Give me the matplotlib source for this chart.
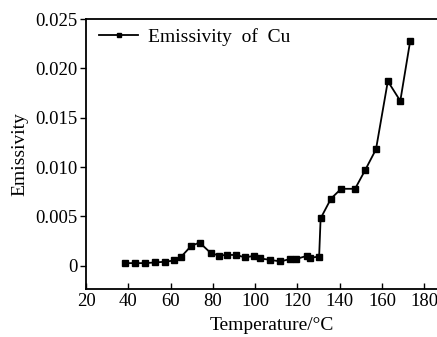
import matplotlib
matplotlib.use("Agg")
import matplotlib.pyplot as plt
from matplotlib.ticker import FuncFormatter

temperature = [38.5, 43.3, 48.0, 52.6, 57.4, 61.8, 65.0, 69.7, 73.7, 79.0,
               82.8, 86.8, 91.1, 95.2, 99.3, 102.5, 106.9, 112.0, 116.4, 119.3,
               124.4, 125.9, 130.3, 131.0, 135.9, 140.7, 147.3, 152.1, 157.2,
               162.8, 168.7, 173.4]
emissivity = [0.00027, 0.00027, 0.00027, 0.00034, 0.00041, 0.00054, 0.00091,
              0.0020, 0.00236, 0.0013, 0.00104, 0.0011, 0.0011, 0.00085,
              0.0010, 0.00074, 0.00061, 0.00044, 0.00068, 0.00068, 0.0010,
              0.0008, 0.00094, 0.0048, 0.0068, 0.0078, 0.0078, 0.0097, 0.0118,
              0.0187, 0.0167, 0.0228]
x_ticks = [20, 40, 60, 80, 100, 120, 140, 160, 180]
y_ticks = [0, 0.005, 0.010, 0.015, 0.020, 0.025]
series_label = "Emissivity  of  Cu"

plt.rcParams['font.family'] = ['Liberation Serif', 'DejaVu Serif']
fig = plt.figure(figsize=(4.37, 3.37), dpi=100)
ax = fig.add_axes([86/437, 1-289/337, 372/437, 270/337])
ax.plot(temperature, emissivity, '-s', color='black', lw=1.3, ms=5,
        label=series_label)
ax.set_xlim(20, 196)
ax.set_ylim(-0.00235, 0.025)
ax.set_xticks(x_ticks)
ax.set_yticks(y_ticks)
ax.yaxis.set_major_formatter(FuncFormatter(lambda v, p: '0' if abs(v) < 1e-12 else f'{v:.3f}'))
ax.tick_params(axis='x', direction='in', length=4, width=1, labelsize=13.5, pad=3)
ax.tick_params(axis='y', direction='out', length=4, width=1, labelsize=13.5, pad=2)
for s in ax.spines.values():
    s.set_linewidth(1.3)
ax.spines['right'].set_visible(False)
ax.set_xlabel('Temperature/°C', fontsize=14, labelpad=5)
ax.set_ylabel('Emissivity', fontsize=14, labelpad=5)
leg = ax.legend(loc='upper left', frameon=False, fontsize=14, handlelength=2,
                markerscale=0.7, borderaxespad=0.0, handletextpad=0.5,
                bbox_to_anchor=(0.015, 0.995))
fig.savefig('out.png', dpi=100)
